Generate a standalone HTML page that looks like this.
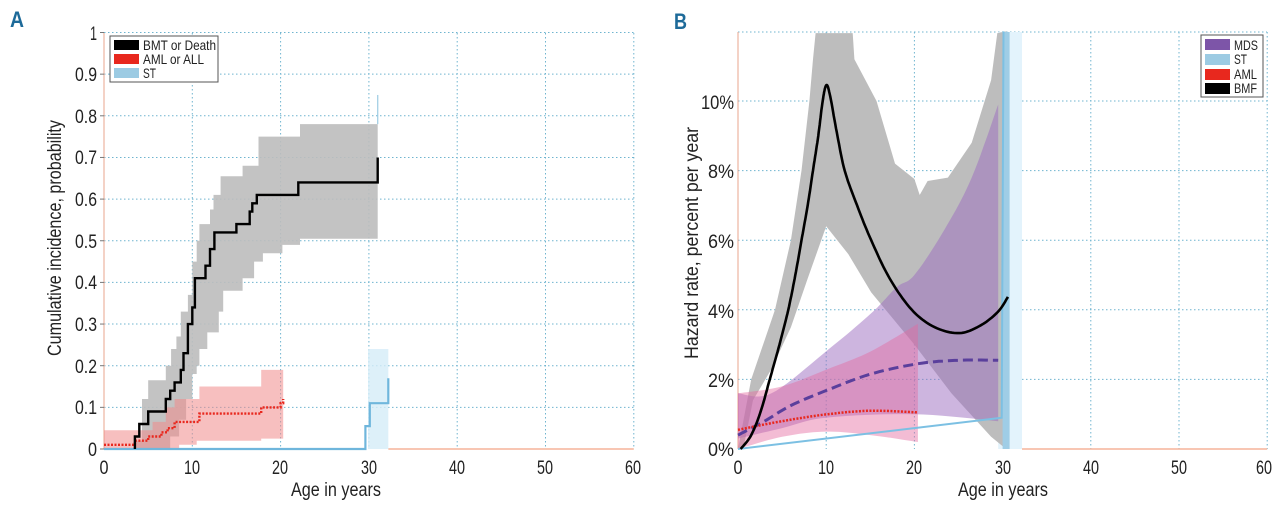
<!DOCTYPE html>
<html><head><meta charset="utf-8"><style>
body{margin:0;background:#fff;width:1280px;height:507px;overflow:hidden}
svg{display:block}
text{font-family:"Liberation Sans",sans-serif;fill:#222}
</style></head><body>
<svg id="s" width="1280" height="507" viewBox="0 0 1280 507" xmlns="http://www.w3.org/2000/svg">
<g id="grid"></g>
<g id="data"></g>
<text x="10" y="27" style="font-weight:bold;font-size:22px;fill:#1d6a99" textLength="14" lengthAdjust="spacingAndGlyphs">A</text>
<text x="674" y="29" style="font-weight:bold;font-size:22px;fill:#1d6a99" textLength="13" lengthAdjust="spacingAndGlyphs">B</text>
<g font-size="19" text-anchor="end">
<text x="97" y="456" textLength="9" lengthAdjust="spacingAndGlyphs">0</text>
<text x="97" y="414" textLength="22" lengthAdjust="spacingAndGlyphs">0.1</text>
<text x="97" y="373" textLength="22" lengthAdjust="spacingAndGlyphs">0.2</text>
<text x="97" y="331" textLength="22" lengthAdjust="spacingAndGlyphs">0.3</text>
<text x="97" y="289" textLength="22" lengthAdjust="spacingAndGlyphs">0.4</text>
<text x="97" y="248" textLength="22" lengthAdjust="spacingAndGlyphs">0.5</text>
<text x="97" y="206" textLength="22" lengthAdjust="spacingAndGlyphs">0.6</text>
<text x="97" y="164" textLength="22" lengthAdjust="spacingAndGlyphs">0.7</text>
<text x="97" y="123" textLength="22" lengthAdjust="spacingAndGlyphs">0.8</text>
<text x="97" y="81" textLength="22" lengthAdjust="spacingAndGlyphs">0.9</text>
<text x="97" y="40" textLength="7" lengthAdjust="spacingAndGlyphs">1</text>
</g>
<g font-size="19" text-anchor="middle">
<text x="104" y="474" textLength="9" lengthAdjust="spacingAndGlyphs">0</text>
<text x="192" y="474" textLength="16" lengthAdjust="spacingAndGlyphs">10</text>
<text x="280" y="474" textLength="16" lengthAdjust="spacingAndGlyphs">20</text>
<text x="369" y="474" textLength="16" lengthAdjust="spacingAndGlyphs">30</text>
<text x="457" y="474" textLength="16" lengthAdjust="spacingAndGlyphs">40</text>
<text x="545" y="474" textLength="16" lengthAdjust="spacingAndGlyphs">50</text>
<text x="633" y="474" textLength="16" lengthAdjust="spacingAndGlyphs">60</text>
<text x="336" y="496" textLength="90" lengthAdjust="spacingAndGlyphs">Age in years</text>
<text transform="translate(61,238) rotate(-90)" textLength="236" lengthAdjust="spacingAndGlyphs">Cumulative incidence, probability</text>
</g>
<g font-size="19" text-anchor="end">
<text x="734" y="456" textLength="26" lengthAdjust="spacingAndGlyphs">0%</text>
<text x="734" y="387" textLength="26" lengthAdjust="spacingAndGlyphs">2%</text>
<text x="734" y="318" textLength="26" lengthAdjust="spacingAndGlyphs">4%</text>
<text x="734" y="248" textLength="26" lengthAdjust="spacingAndGlyphs">6%</text>
<text x="734" y="178" textLength="26" lengthAdjust="spacingAndGlyphs">8%</text>
<text x="734" y="109" textLength="33" lengthAdjust="spacingAndGlyphs">10%</text>
</g>
<g font-size="19" text-anchor="middle">
<text x="738" y="474" textLength="9" lengthAdjust="spacingAndGlyphs">0</text>
<text x="826" y="474" textLength="16" lengthAdjust="spacingAndGlyphs">10</text>
<text x="914" y="474" textLength="16" lengthAdjust="spacingAndGlyphs">20</text>
<text x="1003" y="474" textLength="16" lengthAdjust="spacingAndGlyphs">30</text>
<text x="1091" y="474" textLength="16" lengthAdjust="spacingAndGlyphs">40</text>
<text x="1179" y="474" textLength="16" lengthAdjust="spacingAndGlyphs">50</text>
<text x="1264" y="474" textLength="16" lengthAdjust="spacingAndGlyphs">60</text>
<text x="1003" y="496" textLength="90" lengthAdjust="spacingAndGlyphs">Age in years</text>
<text transform="translate(698,243) rotate(-90)" textLength="232" lengthAdjust="spacingAndGlyphs">Hazard rate, percent per year</text>
</g>
<rect x="110" y="36" width="108" height="46" fill="#fff" stroke="#555" stroke-width="1"/>
<rect x="114" y="40" width="25" height="10" fill="#000"/>
<rect x="114" y="54" width="25" height="10" fill="#e8281e"/>
<rect x="114" y="68" width="25" height="10" fill="#9ccbe3"/>
<g font-size="14"><text x="143" y="50" textLength="73" lengthAdjust="spacingAndGlyphs">BMT or Death</text><text x="143" y="64" textLength="61" lengthAdjust="spacingAndGlyphs">AML or ALL</text><text x="143" y="78" textLength="13" lengthAdjust="spacingAndGlyphs">ST</text></g>
<rect x="1201" y="35" width="62" height="62" fill="#fff" stroke="#555" stroke-width="1"/>
<rect x="1205" y="39" width="25" height="11" fill="#7d55a8"/>
<rect x="1205" y="54" width="25" height="11" fill="#9ccbe3"/>
<rect x="1205" y="69" width="25" height="11" fill="#e8281e"/>
<rect x="1205" y="83" width="25" height="11" fill="#000"/>
<g font-size="14"><text x="1234" y="50" textLength="24" lengthAdjust="spacingAndGlyphs">MDS</text><text x="1234" y="64" textLength="13" lengthAdjust="spacingAndGlyphs">ST</text><text x="1234" y="79" textLength="23" lengthAdjust="spacingAndGlyphs">AML</text><text x="1234" y="93" textLength="23" lengthAdjust="spacingAndGlyphs">BMF</text></g>
</svg>
<script>
var NS="http://www.w3.org/2000/svg";
function el(p,t,a){var e=document.createElementNS(NS,t);for(var k in a)e.setAttribute(k,a[k]);p.appendChild(e);return e;}
var G=document.getElementById('grid'),D=document.getElementById('data');
function AX(x){return 104+x*8.83}function AY(y){return 449-y*416.5}
function BX(x){return 738+x*8.82}function BY(y){return 449-y*34.8}
function pts(a,fx,fy){return a.map(function(p){return fx(p[0]).toFixed(1)+','+fy(p[1]).toFixed(1)}).join(' ')}
var gs={stroke:'#6fb4cf','stroke-width':1,'stroke-dasharray':'1.5,2.5',fill:'none'};
for(var i=1;i<=10;i++){el(G,'line',Object.assign({x1:104,x2:635,y1:AY(i/10),y2:AY(i/10)},gs));}
for(var i=1;i<=6;i++){el(G,'line',Object.assign({x1:AX(i*10),x2:AX(i*10),y1:33,y2:449},gs));}
el(G,'line',{x1:104,x2:104,y1:33,y2:449,stroke:'#e9a58c','stroke-width':1});
for(var i=0;i<=10;i++)el(G,'line',{x1:100,x2:104,y1:AY(i/10),y2:AY(i/10),stroke:'#777'});
for(var i=2;i<=10;i+=2){el(G,'line',Object.assign({x1:738,x2:1267,y1:BY(i),y2:BY(i)},gs));}
el(G,'line',Object.assign({x1:738,x2:1267,y1:32,y2:32},gs));
for(var i=1;i<=6;i++){el(G,'line',Object.assign({x1:BX(i*10),x2:BX(i*10),y1:32,y2:449},gs));}
el(G,'line',{x1:738,x2:738,y1:32,y2:449,stroke:'#e9a58c','stroke-width':1});

function step(a){var r=[a[0]];for(var i=1;i<a.length;i++){r.push([a[i][0],a[i-1][1]]);r.push(a[i]);}return r;}
var up=[[3.5,0.02],[4.3,0.12],[5,0.165],[7,0.2],[7.6,0.24],[8.2,0.27],[8.7,0.33],[9.5,0.37],[10,0.45],[10.5,0.5],[10.8,0.54],[12,0.575],[12.4,0.61],[13.2,0.655],[15.7,0.68],[17.5,0.75],[22.2,0.78],[31,0.78]];
var lo=[[4.2,0],[7.5,0.03],[8.5,0.07],[9.3,0.12],[10,0.18],[10.5,0.2],[10.8,0.24],[11.7,0.28],[13,0.33],[13.5,0.38],[15.7,0.41],[17,0.45],[18,0.47],[20.2,0.49],[22.2,0.505],[31,0.505]];
var poly=step(up).concat([[31,0.505]]).concat(step(lo).reverse()).concat([[3.5,0]]);
el(D,'polygon',{points:pts(poly,AX,AY),fill:'#bdbdbd','fill-opacity':0.9});
var rup=[[0,0.045],[4.3,0.045],[5.5,0.065],[7,0.1],[8,0.12],[10.8,0.15],[17.8,0.19],[20.3,0.19]];
var rlo=[[0,0],[7.5,0],[8.5,0.01],[10.5,0.02],[17.8,0.025],[20.3,0.025]];
var rp=step(rup).concat(step(rlo).reverse());
el(D,'polygon',{points:pts(rp,AX,AY),fill:'#f08a8a','fill-opacity':0.55});
el(D,'rect',{x:AX(29.9),y:AY(0.24),width:AX(32.2)-AX(29.9),height:AY(0)-AY(0.24),fill:'#d5ecf8','fill-opacity':0.8});
el(D,'line',{x1:AX(31),x2:AX(31),y1:AY(0.85),y2:AY(0.78),stroke:'#9ccbe3','stroke-width':1.2});
el(D,'polyline',{points:pts(step([[0,0],[29.6,0.055],[30.1,0.11],[32.2,0.17]]),AX,AY),fill:'none',stroke:'#6fb6dc','stroke-width':2.2});
el(D,'line',{x1:AX(32.2),x2:AX(60),y1:449,y2:449,stroke:'#f5b49a','stroke-width':1.5});
var rl=[[0,0.01],[3.5,0.02],[5,0.03],[6.5,0.04],[7.2,0.05],[8,0.065],[10.8,0.085],[17.8,0.1],[20,0.11],[20.3,0.12]];
el(D,'polyline',{points:pts(step(rl),AX,AY),fill:'none',stroke:'#e8281e','stroke-width':2.4,'stroke-dasharray':'2,1.5'});
var bl=[[3.5,0],[3.5,0.03],[4,0.06],[5,0.09],[7,0.12],[7.5,0.14],[8,0.16],[8.7,0.19],[9,0.23],[9.5,0.3],[10,0.34],[10.3,0.41],[11.5,0.44],[12,0.48],[12.5,0.52],[15,0.54],[16.5,0.57],[16.8,0.59],[17.3,0.61],[22,0.64],[31,0.7]];
el(D,'polyline',{points:pts(step(bl),AX,AY),fill:'none',stroke:'#000','stroke-width':2.4});

function smooth(a){var r=[];for(var i=0;i<a.length-1;i++){var p0=a[Math.max(i-1,0)],p1=a[i],p2=a[i+1],p3=a[Math.min(i+2,a.length-1)];for(var t=0;t<1;t+=0.1){var t2=t*t,t3=t2*t;r.push([0.5*(2*p1[0]+(-p0[0]+p2[0])*t+(2*p0[0]-5*p1[0]+4*p2[0]-p3[0])*t2+(-p0[0]+3*p1[0]-3*p2[0]+p3[0])*t3),0.5*(2*p1[1]+(-p0[1]+p2[1])*t+(2*p0[1]-5*p1[1]+4*p2[1]-p3[1])*t2+(-p0[1]+3*p1[1]-3*p2[1]+p3[1])*t3)]);}}r.push(a[a.length-1]);return r;}
function clipY(a){return a.map(function(p){return [p[0],Math.min(p[1],11.95)]})}
el(D,'rect',{x:BX(29.5),y:32,width:BX(32.2)-BX(29.5),height:417,fill:'#e3f3fc'});
var gu=[[0,0],[1.5,2],[4.2,4],[6,6],[7.2,8],[8.1,10],[8.5,11.2],[8.8,12.2],[13,12.2],[13.2,11.2],[15.7,10],[17.8,8.2],[20,7.76],[20.6,7.3],[21.5,7.7],[23.8,7.8],[26.5,8.8],[28.7,10.6],[29.4,12.2]];
var gl=[[30.4,12],[30.4,0],[28.7,0.35],[24.2,1.6],[20,3.0],[15.1,4.5],[12.5,5.6],[10,6.4],[7.9,4.9],[6,3.5],[3.8,2.3],[1.7,1.4],[0.6,0]];
el(D,'polygon',{points:pts(clipY(gu),BX,BY)+' '+pts(gl,BX,BY),fill:'#bdbdbd'});
var mu=[[0,1.6],[3.8,1.6],[10.2,2.85],[15.1,3.9],[18,4.65],[20,5.0],[23.4,6.3],[26.5,7.8],[29.5,9.9]];
var ml=[[29.5,0.8],[20,1.0],[10,0.9],[5,0.6],[0,0.3]];
el(D,'polygon',{points:pts(smooth(mu),BX,BY)+' '+pts(smooth(ml),BX,BY),fill:'#9b6bbf','fill-opacity':0.5});
var au=[[0,1.6],[5,1.8],[10.2,2.3],[15,2.8],[20.4,3.6]];
var al=[[20.4,0.2],[15,0.4],[10,0.5],[5,0.35],[0,0]];
el(D,'polygon',{points:pts(smooth(au),BX,BY)+' '+pts(smooth(al),BX,BY),fill:'#e56aa0','fill-opacity':0.45});
el(D,'rect',{x:BX(30),y:32,width:7,height:417,fill:'#9fcde6'});
el(D,'polyline',{points:pts([[0,0],[29.9,0.9],[30.1,12]],BX,BY),fill:'none',stroke:'#7cc0e3','stroke-width':2});
el(D,'line',{x1:BX(32.2),x2:BX(60),y1:449,y2:449,stroke:'#f5b49a','stroke-width':1.5});
el(D,'polyline',{points:pts(smooth([[0,0.4],[3,0.8],[6,1.25],[10.2,1.7],[15,2.15],[20.4,2.45],[25,2.55],[29.5,2.55]]),BX,BY),fill:'none',stroke:'#5a3f9c','stroke-width':3,'stroke-dasharray':'10,5'});
el(D,'polyline',{points:pts(smooth([[0,0.55],[5,0.8],[10.2,1.0],[15.1,1.1],[20.4,1.05]]),BX,BY),fill:'none',stroke:'#e8281e','stroke-width':2.5,'stroke-dasharray':'2,1.5'});
var bk=[[0.3,0],[1.5,0.4],[2.6,1.1],[3.6,2],[4.7,3],[5.7,4],[6.5,5],[7.2,6],[7.9,7],[8.5,8],[9.1,9],[9.6,10],[10,10.45],[10.4,10.2],[11.2,9.1],[12.1,8],[13.5,7],[15.1,6],[17.2,4.9],[19.7,4],[22.3,3.5],[25.1,3.33],[27.5,3.55],[29.5,3.95],[30.6,4.37]];
el(D,'polyline',{points:pts(smooth(bk),BX,BY),fill:'none',stroke:'#000','stroke-width':2.6});
</script>
</body></html>
